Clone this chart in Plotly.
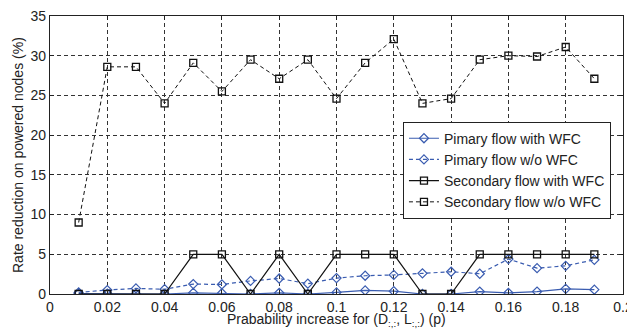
import plotly.graph_objects as go

x = [0.01, 0.02, 0.03, 0.04, 0.05, 0.06, 0.07, 0.08, 0.09, 0.10,
     0.11, 0.12, 0.13, 0.14, 0.15, 0.16, 0.17, 0.18, 0.19]
primary_with = [0.05, 0.05, 0.0, 0.0, 0.15, 0.1, 0.0, 0.15, 0.0, 0.2,
                0.45, 0.35, 0.0, 0.0, 0.3, 0.15, 0.3, 0.65, 0.55]
primary_wo = [0.2, 0.5, 0.7, 0.6, 1.25, 1.2, 1.65, 1.95, 1.3, 2.0,
              2.3, 2.4, 2.6, 2.8, 2.55, 4.4, 3.25, 3.55, 4.3]
secondary_with = [0, 0, 0, 0, 5, 5, 0, 5, 0, 5,
                  5, 5, 0, 0, 5, 5, 5, 5, 5]
secondary_wo = [9.0, 28.6, 28.6, 24.0, 29.1, 25.5, 29.5, 27.1, 29.5, 24.6,
                29.1, 32.1, 24.0, 24.6, 29.5, 30.0, 29.9, 31.1, 27.1]

x_ticks = [0, 0.02, 0.04, 0.06, 0.08, 0.1, 0.12, 0.14, 0.16, 0.18, 0.2]
x_tick_labels = ["0", "0.02", "0.04", "0.06", "0.08", "0.1", "0.12", "0.14", "0.16", "0.18", "0.2"]
y_ticks = [0, 5, 10, 15, 20, 25, 30, 35]

x_title = "Prabability increase for (D<sub>:,:</sub>, L<sub>:,:</sub>) (p)"
y_title = "Rate reduction on powered nodes (%)"

blue = "#3a5cb0"
dark = "#111111"
short_dash = "4px,3px"

fig = go.Figure()
fig.add_trace(go.Scatter(x=x, y=primary_with, name="Pimary flow with WFC", mode="lines+markers",
                         line=dict(color=blue, width=1.2),
                         marker=dict(symbol="diamond-open", size=7, color=blue, line=dict(width=1.2))))
fig.add_trace(go.Scatter(x=x, y=primary_wo, name="Pimary flow w/o WFC", mode="lines+markers",
                         line=dict(color=blue, width=1.2, dash=short_dash),
                         marker=dict(symbol="diamond-open", size=7, color=blue, line=dict(width=1.2))))
fig.add_trace(go.Scatter(x=x, y=secondary_with, name="Secondary flow with WFC", mode="lines+markers",
                         line=dict(color=dark, width=1.2),
                         marker=dict(symbol="square-open", size=7, color=dark, line=dict(width=1.3))))
fig.add_trace(go.Scatter(x=x, y=secondary_wo, name="Secondary flow w/o WFC", mode="lines+markers",
                         line=dict(color=dark, width=1, dash=short_dash),
                         marker=dict(symbol="square-open", size=7, color=dark, line=dict(width=1.3))))

axis_common = dict(showline=True, linecolor="#222222", linewidth=1.2, mirror="ticks",
                   ticks="inside", ticklen=4, tickcolor="#222222",
                   showgrid=True, gridcolor="#333333", griddash=short_dash, gridwidth=0.8,
                   zeroline=False, automargin=False, ticklabeloverflow="allow",
                   tickfont=dict(family="Liberation Sans, Arial", size=14, color="#222222"))

# The page body has an 8px default margin, so the figure is sized to fit the window after it.
fig.update_layout(
    width=627, height=321,
    margin=dict(l=42, r=12, t=8, b=35),
    paper_bgcolor="white", plot_bgcolor="white",
    font=dict(family="Liberation Sans, Arial", size=14, color="#222222"),
    xaxis=dict(range=[0, 0.2], tickvals=x_ticks, ticktext=x_tick_labels, **axis_common),
    yaxis=dict(range=[0, 35], tickvals=y_ticks, **axis_common),
    legend=dict(x=0.616, y=0.62, xanchor="left", yanchor="top",
                bgcolor="white", bordercolor="#222222", borderwidth=1,
                font=dict(size=14), tracegroupgap=0, itemwidth=30),
    showlegend=True,
    annotations=[
        dict(text=x_title, xref="paper", yref="paper", x=0.5, y=0,
             xanchor="center", yanchor="middle", yshift=-26, showarrow=False,
             font=dict(size=14, color="#222222")),
        dict(text=y_title, xref="paper", yref="paper", x=0, y=0.5, textangle=-90,
             xanchor="center", yanchor="middle", xshift=-32, showarrow=False,
             font=dict(size=14, color="#222222")),
    ],
)

fig.write_html("out.html")
